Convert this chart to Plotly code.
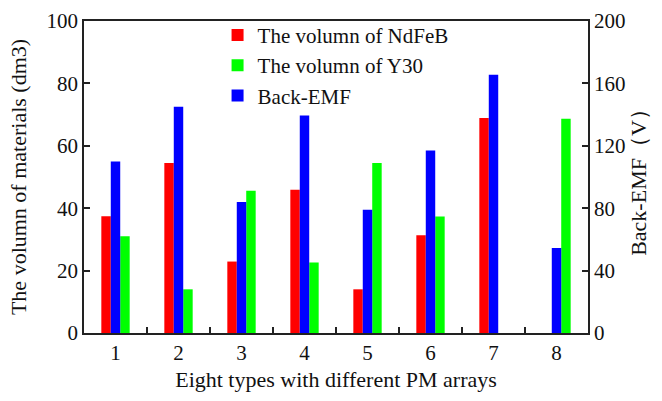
import plotly.graph_objects as go

# PM array types
types = ["1", "2", "3", "4", "5", "6", "7", "8"]

# Material volumes (dm3) and back-EMF (V)
ndfeb_volume = [37.4, 54.5, 22.9, 45.9, 14.0, 31.3, 68.9, 0]
y30_volume = [31.0, 14.0, 45.6, 22.6, 54.5, 37.3, 0, 68.7]
back_emf = [110, 145, 84, 139.5, 79, 117, 165.5, 54.5]

FONT = "Liberation Serif"
BAR_W = 0.15

fig = go.Figure()
fig.add_trace(go.Bar(
    x=types, y=ndfeb_volume, name="The volumn of NdFeB",
    marker=dict(color="#ff0000", line=dict(width=0)),
    width=BAR_W, offset=-1.5 * BAR_W, yaxis="y", legendrank=1,
))
fig.add_trace(go.Bar(
    x=types, y=back_emf, name="Back-EMF",
    marker=dict(color="#0000ff", line=dict(width=0)),
    width=BAR_W, offset=-0.5 * BAR_W, yaxis="y2", legendrank=3,
))
fig.add_trace(go.Bar(
    x=types, y=y30_volume, name="The volumn of Y30",
    marker=dict(color="#00ff00", line=dict(width=0)),
    width=BAR_W, offset=0.5 * BAR_W, yaxis="y", legendrank=2,
))

axis_line = dict(showline=True, linecolor="#222", linewidth=1.5)
tick_font = dict(family=FONT, size=21, color="#111")
title_font = dict(family=FONT, size=22, color="#111")

fig.update_layout(
    template="none",
    width=662, height=401,
    margin=dict(l=84, r=74, t=21, b=68),
    paper_bgcolor="white", plot_bgcolor="white",
    font=dict(family=FONT, size=21, color="#111"),
    barmode="overlay",
    showlegend=True,
    legend=dict(
        x=0.265, y=1.02, xanchor="left", yanchor="top",
        bgcolor="rgba(0,0,0,0)",
        font=dict(family=FONT, size=21, color="#111"),
        tracegroupgap=0,
    ),
    xaxis=dict(
        type="category", tickson="boundaries", ticks="inside", ticklen=6,
        tickwidth=1.5, tickcolor="#222", mirror=True, showgrid=False,
        tickfont=tick_font,
        title=dict(text="Eight types with different PM arrays", standoff=8,
                   font=title_font),
        range=[-0.5, 7.5], **axis_line,
    ),
    yaxis=dict(
        range=[0, 100], dtick=20, ticks="inside", ticklen=6, tickwidth=1.5,
        tickcolor="#222", showgrid=False, zeroline=False, tickfont=tick_font,
        title=dict(text="The volumn of materials (dm3)", standoff=14,
                   font=title_font),
        **axis_line,
    ),
    yaxis2=dict(
        range=[0, 200], dtick=40, ticks="inside", ticklen=6, tickwidth=1.5,
        tickcolor="#222", showgrid=False, zeroline=False, tickfont=tick_font,
        overlaying="y", side="right",
        title=dict(text="Back-EMF（V）", standoff=6, font=title_font),
        **axis_line,
    ),
)

fig.write_html("out.html")
